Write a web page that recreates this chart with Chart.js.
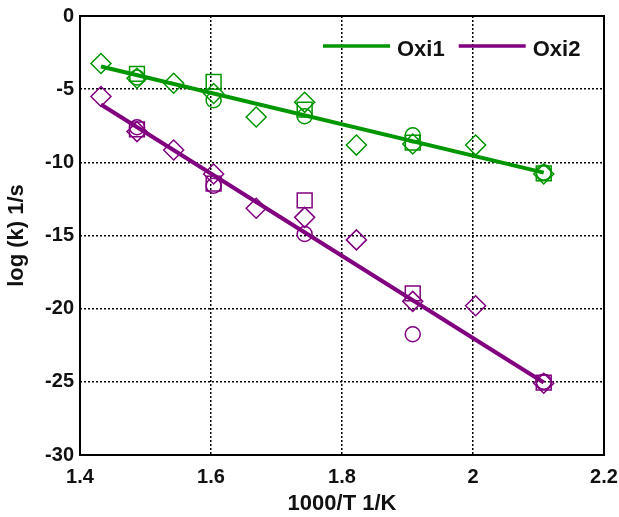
<!DOCTYPE html>
<html>
<head>
<meta charset="utf-8">
<script src="https://cdn.jsdelivr.net/npm/chart.js@4/dist/chart.umd.min.js"></script>
<style>
  html, body { margin: 0; padding: 0; background: #fff; }
  #wrap { width: 619px; height: 517px; }
</style>
</head>
<body>
<div id="wrap"><canvas id="c" width="619" height="517"></canvas></div>
<script>
// Series names and colours
const seriesNames = ['Oxi1', 'Oxi2'];
const seriesColors = ['#009600', '#800080'];

// 1000/T positions (1/K)
const xDiamond = [1.432, 1.487, 1.543, 1.604, 1.669, 1.743, 1.822, 1.908, 2.004, 2.108];
const xSquareCircle = [1.487, 1.604, 1.743, 1.908, 2.108];

// log(k) values, Oxi1
const oxi1Diamond = [-3.25, -4.25, -4.6, -5.3, -6.9, -5.9, -8.82, -8.75, -8.82, -10.8];
const oxi1Square  = [-3.95, -4.5, -6.4, -8.65, -10.75];
const oxi1Circle  = [-4.2, -5.75, -6.85, -8.15, -10.7];

// log(k) values, Oxi2
const oxi2Diamond = [-5.5, -7.9, -9.16, -10.8, -13.14, -13.76, -15.3, -19.5, -19.8, -25.1];
const oxi2Square  = [-7.75, -11.45, -12.6, -18.95, -25.05];
const oxi2Circle  = [-7.6, -11.6, -14.9, -21.75, -25.0];

// Fitted Arrhenius lines (end points)
const fitX = [1.432, 2.108];
const oxi1Fit = [-3.45, -10.7];
const oxi2Fit = [-6.05, -25.05];

// Axis ticks
const xTicks = [1.4, 1.6, 1.8, 2.0, 2.2];
const yTicks = [0, -5, -10, -15, -20, -25, -30];

const pts = (xs, ys) => xs.map((x, i) => ({ x: x, y: ys[i] }));

const FONT = "'Liberation Sans', Arial, Helvetica, sans-serif";

function markerSet(label, xs, ys, color, style, radius) {
  return {
    label: label,
    type: 'scatter',
    data: pts(xs, ys),
    showLine: false,
    pointStyle: style,
    pointRadius: radius,
    pointHoverRadius: radius,
    pointBorderWidth: 1.5,
    borderColor: color,
    pointBorderColor: color,
    backgroundColor: 'rgba(0,0,0,0)',
    pointBackgroundColor: 'rgba(0,0,0,0)'
  };
}

function fitSet(label, ys, color) {
  return {
    label: label,
    type: 'line',
    data: pts(fitX, ys),
    borderColor: color,
    backgroundColor: color,
    borderWidth: 4,
    pointRadius: 0,
    fill: false,
    tension: 0
  };
}

// Solid frame round the plot area
const framePlugin = {
  id: 'frame',
  afterDatasetsDraw(chart) {
    const { ctx, chartArea: a } = chart;
    ctx.save();
    ctx.strokeStyle = '#000';
    ctx.lineWidth = 2;
    ctx.setLineDash([]);
    ctx.strokeRect(a.left, a.top, a.right - a.left, a.bottom - a.top);
    ctx.restore();
  }
};

// Legend for the two fitted lines, inside the top right of the plot
const legendPlugin = {
  id: 'inlineLegend',
  afterDraw(chart) {
    const { ctx, chartArea: a } = chart;
    ctx.save();
    ctx.font = 'bold 22px ' + FONT;
    ctx.textBaseline = 'middle';
    ctx.textAlign = 'left';
    let x = a.right - 281;
    const lineY = a.top + 30;
    const textY = a.top + 34;
    seriesNames.forEach((name, i) => {
      ctx.strokeStyle = seriesColors[i];
      ctx.lineWidth = 3.5;
      ctx.beginPath();
      ctx.moveTo(x, lineY);
      ctx.lineTo(x + 67, lineY);
      ctx.stroke();
      x += 67 + 7;
      ctx.fillStyle = '#111';
      ctx.fillText(name, x, textY);
      x += ctx.measureText(name).width + 14;
    });
    ctx.restore();
  }
};

const gridColor = (edgeValues) => (c) => {
  const v = c.tick ? c.tick.value : null;
  if (v === null) return 'rgba(0,0,0,0)';
  return edgeValues.some(e => Math.abs(e - v) < 1e-9) ? 'rgba(0,0,0,0)' : '#000';
};

new Chart(document.getElementById('c'), {
  type: 'scatter',
  data: {
    datasets: [
      fitSet(seriesNames[0], oxi1Fit, seriesColors[0]),
      fitSet(seriesNames[1], oxi2Fit, seriesColors[1]),
      markerSet('Oxi1 rect', xSquareCircle, oxi1Square, seriesColors[0], 'rect', 10.5),
      markerSet('Oxi1 circle', xSquareCircle, oxi1Circle, seriesColors[0], 'circle', 7.5),
      markerSet('Oxi1 diamond', xDiamond, oxi1Diamond, seriesColors[0], 'rectRot', 10),
      markerSet('Oxi2 rect', xSquareCircle, oxi2Square, seriesColors[1], 'rect', 10.5),
      markerSet('Oxi2 circle', xSquareCircle, oxi2Circle, seriesColors[1], 'circle', 7.5),
      markerSet('Oxi2 diamond', xDiamond, oxi2Diamond, seriesColors[1], 'rectRot', 10)
    ]
  },
  options: {
    responsive: false,
    animation: false,
    devicePixelRatio: 1,
    layout: { padding: { top: 16, right: 15, left: 0, bottom: 0 } },
    plugins: {
      legend: { display: false },
      tooltip: { enabled: false }
    },
    scales: {
      x: {
        type: 'linear',
        min: 1.4,
        max: 2.2,
        afterBuildTicks: (s) => { s.ticks = xTicks.map(v => ({ value: v })); },
        afterFit: (s) => { s.height = 62; s.paddingLeft = 0; s.paddingRight = 0; },
        border: { display: false, dash: [2, 2] },
        grid: {
          drawTicks: false,
          color: gridColor([1.4, 2.2]),
          lineWidth: 1.5
        },
        ticks: {
          color: '#111',
          padding: 10,
          maxRotation: 0,
          font: { family: FONT, size: 20, weight: 'bold' },
          callback: (v) => String(Math.round(v * 10) / 10)
        },
        title: {
          display: true,
          text: '1000/T 1/K',
          color: '#111',
          font: { family: FONT, size: 22, weight: 'bold' },
          padding: { top: 0, bottom: 0 }
        }
      },
      y: {
        type: 'linear',
        min: -30,
        max: 0,
        afterBuildTicks: (s) => { s.ticks = yTicks.map(v => ({ value: v })); },
        afterFit: (s) => { s.width = 80; s.paddingTop = 0; s.paddingBottom = 0; },
        border: { display: false, dash: [2, 2] },
        grid: {
          drawTicks: false,
          color: gridColor([0, -30]),
          lineWidth: 1.5
        },
        ticks: {
          color: '#111',
          padding: 6,
          font: { family: FONT, size: 20, weight: 'bold' }
        },
        title: {
          display: true,
          text: 'log (k) 1/s',
          color: '#111',
          font: { family: FONT, size: 22, weight: 'bold' },
          padding: { top: 4, bottom: 0 }
        }
      }
    }
  },
  plugins: [framePlugin, legendPlugin]
});
</script>
</body>
</html>
